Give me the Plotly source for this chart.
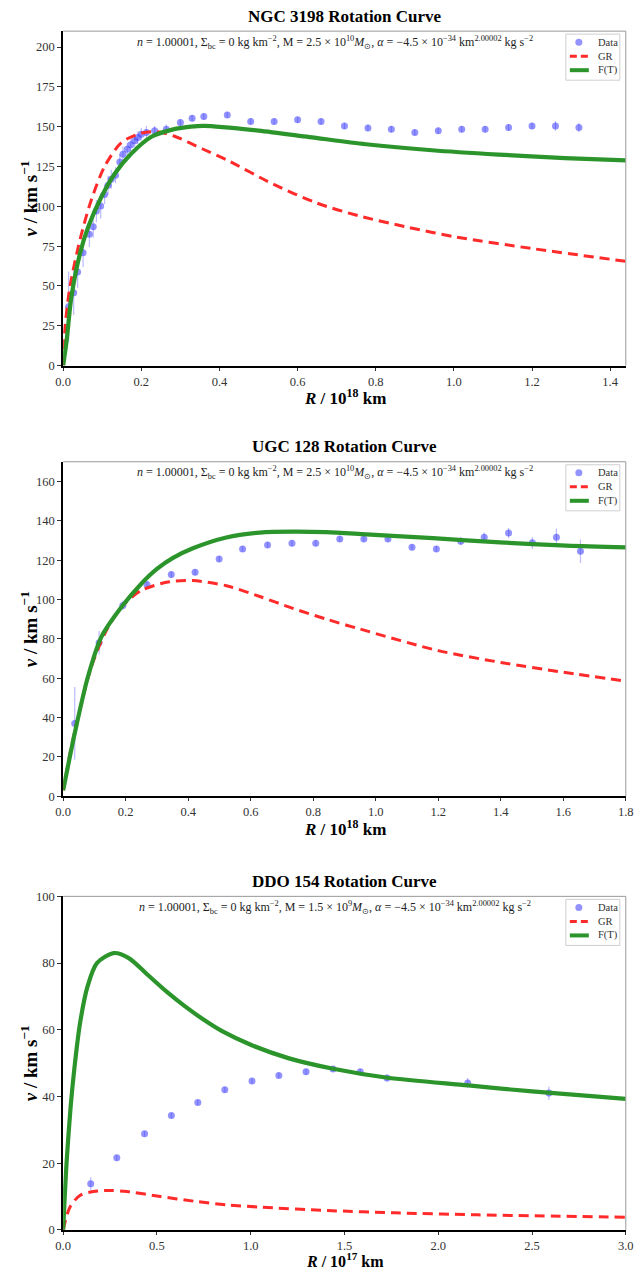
import plotly.graph_objects as go

# ---------------- NGC 3198 ----------------
ngc_r = [0.014, 0.027, 0.037, 0.051, 0.067, 0.077, 0.085, 0.096, 0.106, 0.115, 0.123,
         0.134, 0.145, 0.153, 0.164, 0.173, 0.183, 0.191, 0.200, 0.213, 0.234, 0.264,
         0.300, 0.330, 0.360, 0.420, 0.480, 0.540, 0.600, 0.660, 0.720, 0.780, 0.840,
         0.900, 0.960, 1.020, 1.080, 1.140, 1.200, 1.260, 1.320]
ngc_v = [37.0, 45.7, 58.7, 70.9, 82.4, 87.2, 97.0, 100.2, 107.5, 113.2, 117.0,
         119.5, 127.9, 132.7, 135.8, 138.6, 141.1, 143.2, 145.3, 146.4, 147.4, 148.4,
         152.6, 155.3, 156.4, 157.4, 153.3, 153.3, 154.3, 153.3, 150.5, 149.2, 148.4,
         146.4, 147.4, 148.4, 148.4, 149.5, 150.5, 150.5, 149.5]
ngc_err = [22, 14, 10, 9, 8, 7, 7, 8, 6, 6, 6,
           5, 5, 5, 4, 4, 4, 4, 4, 4, 3, 3,
           2, 2, 2, 2, 2, 2, 2, 2, 2, 2, 2,
           2, 2, 2, 2, 2, 2, 3, 3]
ngc_gr_r = [0.0, 0.004, 0.017, 0.043, 0.072, 0.106, 0.149, 0.200, 0.242, 0.285, 0.357,
            0.420, 0.537, 0.650, 0.757, 0.880, 1.000, 1.200, 1.440]
ngc_gr_v = [0.0, 22.0, 49.0, 79.0, 104.0, 125.0, 140.0, 146.0, 146.8, 144.0, 136.0,
            129.0, 114.0, 102.0, 94.0, 87.0, 81.0, 73.5, 65.5]
ngc_ft_r = [0.0, 0.009, 0.021, 0.043, 0.064, 0.098, 0.132, 0.174, 0.226, 0.277, 0.327,
            0.360, 0.500, 0.630, 0.775, 0.944, 1.114, 1.284, 1.440]
ngc_ft_v = [0.0, 16.0, 43.0, 70.3, 87.0, 106.0, 120.5, 133.0, 143.7, 148.0, 150.0,
            150.5, 147.5, 143.5, 139.0, 135.2, 132.5, 130.3, 128.8]

# ---------------- UGC 128 ----------------
ugc_r = [0.037, 0.115, 0.191, 0.268, 0.346, 0.422, 0.499, 0.574, 0.654, 0.732, 0.808,
         0.885, 0.962, 1.039, 1.116, 1.194, 1.272, 1.347, 1.425, 1.501, 1.578, 1.655]
ugc_v = [37.0, 78.0, 97.0, 107.6, 112.7, 113.8, 120.6, 125.7, 127.7, 128.6, 128.6,
         130.8, 130.8, 130.8, 126.5, 125.7, 129.6, 131.6, 133.8, 128.8, 131.6, 124.5]
ugc_err = [18.5, 6, 2.5, 1.5, 1.5, 1.5, 1.5, 1.5, 1.5, 1.5, 1.5,
           1.5, 1.5, 1.5, 1.5, 1.5, 2, 2.5, 2.5, 3, 4.5, 6]
ugc_gr_r = [0.0, 0.010, 0.026, 0.058, 0.090, 0.133, 0.186, 0.250, 0.340, 0.415, 0.522,
            0.629, 0.735, 0.842, 0.949, 1.200, 1.400, 1.600, 1.800]
ugc_gr_v = [3.0, 11.5, 25.0, 47.0, 65.6, 82.6, 96.0, 104.6, 109.0, 109.6, 107.0,
            101.5, 95.5, 90.0, 85.0, 74.0, 68.0, 63.0, 58.5]
ugc_ft_r = [0.0, 0.015, 0.037, 0.079, 0.122, 0.186, 0.250, 0.300, 0.350, 0.415, 0.522,
            0.629, 0.735, 0.842, 0.970, 1.183, 1.397, 1.610, 1.800]
ugc_ft_v = [3.0, 15.0, 32.0, 60.6, 80.9, 96.0, 108.0, 115.5, 121.0, 126.0, 131.5,
            134.0, 134.5, 134.2, 133.1, 131.2, 129.0, 127.4, 126.5]

# ---------------- DDO 154 ----------------
ddo_r = [0.147, 0.286, 0.434, 0.577, 0.718, 0.862, 1.007, 1.150, 1.295, 1.439, 1.584,
         1.727, 2.157, 2.590]
ddo_v = [13.8, 21.6, 28.8, 34.3, 38.2, 42.0, 44.6, 46.3, 47.4, 48.2, 47.4,
         45.5, 44.0, 41.0]
ddo_err = [2, 0.8, 0.8, 0.8, 0.8, 0.8, 0.8, 0.8, 0.8, 0.8, 0.8, 1, 1.5, 2]
ddo_gr_r = [0.0, 0.036, 0.089, 0.161, 0.250, 0.340, 0.518, 0.696, 0.875, 1.054, 1.410,
            1.768, 2.210, 3.000]
ddo_gr_v = [0.0, 6.8, 10.3, 11.5, 11.8, 11.5, 10.0, 8.6, 7.5, 6.8, 5.8,
            5.1, 4.5, 3.8]
ddo_ft_r = [0.0, 0.018, 0.040, 0.060, 0.090, 0.130, 0.180, 0.270, 0.350, 0.450, 0.550,
            0.650, 0.750, 0.850, 1.000, 1.200, 1.440, 1.730, 2.160, 2.500, 3.000]
ddo_ft_v = [0.0, 20.0, 37.0, 48.5, 62.0, 73.0, 80.0, 83.0, 81.5, 76.5, 71.5,
            67.0, 63.0, 59.5, 55.5, 51.5, 48.3, 45.6, 43.3, 41.5, 39.3]

titles = ["NGC 3198 Rotation Curve", "UGC 128 Rotation Curve", "DDO 154 Rotation Curve"]
mass_labels = ["2.5 × 10<sup>10</sup>", "2.5 × 10<sup>10</sup>", "1.5 × 10<sup>9</sup>"]
x_titles = ["<b><i>R</i> / 10<sup>18</sup> km</b>", "<b><i>R</i> / 10<sup>18</sup> km</b>",
            "<b><i>R</i> / 10<sup>17</sup> km</b>"]
x_ranges = [[0, 1.44], [0, 1.8], [0, 3.0]]
y_ranges = [[0, 210], [0, 170], [0, 100]]
x_tickvals = [[0.0, 0.2, 0.4, 0.6, 0.8, 1.0, 1.2, 1.4],
              [0.0, 0.2, 0.4, 0.6, 0.8, 1.0, 1.2, 1.4, 1.6, 1.8],
              [0.0, 0.5, 1.0, 1.5, 2.0, 2.5, 3.0]]
y_tickvals = [[0, 25, 50, 75, 100, 125, 150, 175, 200],
              [0, 20, 40, 60, 80, 100, 120, 140, 160],
              [0, 20, 40, 60, 80, 100]]
legend_labels = ["Data", "GR", "F(T)"]

DATA_COLOR = "rgba(40,40,255,0.5)"
ERR_COLOR = "rgba(60,60,255,0.35)"
GR_COLOR = "#ff2a2a"
FT_COLOR = "#2b952b"

W, H = 641, 1272
SERIF = "Liberation Serif"
# The page body keeps its default 8px margin and the page is then fitted to the
# window, so layout positions are given in window pixels and mapped back here.
BODY = 8
SX = (W + 2 * BODY) / W
SY = (H + 2 * BODY) / H
X0, X1 = 63, 626
panel_px = [(32, 366), (462, 796), (896, 1229)]
x_title_px = [397, 828, 1259.5]
x_title_size = [17, 17, 16]


def px(p):
    return (p * SX - BODY) / W


def py(p):
    return 1 - (p * SY - BODY) / H


datasets = [
    (ngc_r, ngc_v, ngc_err, ngc_gr_r, ngc_gr_v, ngc_ft_r, ngc_ft_v),
    (ugc_r, ugc_v, ugc_err, ugc_gr_r, ugc_gr_v, ugc_ft_r, ugc_ft_v),
    (ddo_r, ddo_v, ddo_err, ddo_gr_r, ddo_gr_v, ddo_ft_r, ddo_ft_v),
]

fig = go.Figure()
annotations = []
shapes = []


def note(text, x, y, size, color="black", angle=0, xanchor="center"):
    annotations.append(dict(
        text=text, x=x, y=y, xref="paper", yref="paper", showarrow=False,
        xanchor=xanchor, yanchor="middle", textangle=angle,
        font=dict(family=SERIF, size=size, color=color)))


def legend_box(top):
    # boxed key in the upper right corner of a panel
    shapes.append(dict(type="rect", xref="paper", yref="paper", layer="above",
                       x0=px(566), x1=px(620), y0=py(top + 49), y1=py(top + 3),
                       fillcolor="white", line=dict(color="#cfcfcf", width=1)))
    rows = [top + 11, top + 25, top + 39]
    shapes.append(dict(type="circle", xref="paper", yref="paper", layer="above",
                       x0=px(575.5), x1=px(582.5), y0=py(rows[0] + 3.5), y1=py(rows[0] - 3.5),
                       fillcolor=DATA_COLOR, line=dict(width=0)))
    shapes.append(dict(type="line", xref="paper", yref="paper", layer="above",
                       x0=px(570), x1=px(589), y0=py(rows[1]), y1=py(rows[1]),
                       line=dict(color=GR_COLOR, width=3, dash="7px,4px")))
    shapes.append(dict(type="line", xref="paper", yref="paper", layer="above",
                       x0=px(570), x1=px(589), y0=py(rows[2]), y1=py(rows[2]),
                       line=dict(color=FT_COLOR, width=4)))
    for label, row in zip(legend_labels, rows):
        note(label, px(596), py(row), 10.5, color="#333", xanchor="left")


for i, (r, v, e, grr, grv, ftr, ftv) in enumerate(datasets):
    sfx = "" if i == 0 else str(i + 1)
    xa, ya = "x" + sfx, "y" + sfx
    fig.add_trace(go.Scatter(
        x=r, y=v, mode="markers", name="Data", xaxis=xa, yaxis=ya,
        marker=dict(size=7, color=DATA_COLOR),
        error_y=dict(type="data", array=e, visible=True, width=0, thickness=1.2,
                     color=ERR_COLOR)))
    fig.add_trace(go.Scatter(
        x=grr, y=grv, mode="lines", name="GR", xaxis=xa, yaxis=ya,
        line=dict(color=GR_COLOR, width=3, dash="10px,6px", shape="spline", smoothing=0.8)))
    fig.add_trace(go.Scatter(
        x=ftr, y=ftv, mode="lines", name="F(T)", xaxis=xa, yaxis=ya,
        line=dict(color=FT_COLOR, width=4.2, shape="spline", smoothing=0.8)))

    top, bot = panel_px[i]
    axis_common = dict(showgrid=False, zeroline=False, ticks="outside", ticklen=4,
                       tickwidth=1, tickcolor="#333", ticklabeloverflow="allow",
                       tickfont=dict(family=SERIF, size=12.5, color="#333"),
                       showline=True, linecolor="black", linewidth=2)
    fig.layout["xaxis" + sfx] = dict(
        axis_common, domain=[px(X0), px(X1)], anchor=ya, range=x_ranges[i],
        tickmode="array", tickvals=x_tickvals[i], tickformat=".1f", ticklen=3)
    fig.layout["yaxis" + sfx] = dict(
        axis_common, domain=[py(bot), py(top)], anchor=xa, range=y_ranges[i],
        tickmode="array", tickvals=y_tickvals[i])

    # thin frame on top and right
    shapes.append(dict(type="line", xref=xa + " domain", yref=ya + " domain",
                       x0=0, x1=1, y0=1, y1=1, line=dict(color="#999", width=1)))
    shapes.append(dict(type="line", xref=xa + " domain", yref=ya + " domain",
                       x0=1, x1=1, y0=0, y1=1, line=dict(color="#999", width=1)))

    legend_box(top)

    note("<b>" + titles[i] + "</b>", px(345), py(top - 15), 17)
    note("<i>n</i> = 1.00001, Σ<sub>bc</sub> = 0 kg km<sup>−2</sup>, M = "
         + mass_labels[i] + "<i>M</i><sub>⊙</sub>, <i>α</i> = −4.5 × 10<sup>−34</sup> "
         "km<sup>2.00002</sup> kg s<sup>−2</sup>",
         px(335), py(top + 11), 12, color="#222")
    note(x_titles[i], px(345), py(x_title_px[i]), x_title_size[i])
    note("<b><i>v</i> / km s<sup>−1</sup></b>", px(29), py((top + bot) / 2), 19, angle=-90)

fig.update_layout(
    width=W, height=H, margin=dict(l=0, r=0, t=0, b=0),
    paper_bgcolor="white", plot_bgcolor="white", showlegend=False,
    annotations=annotations, shapes=shapes,
)

fig.write_html("out.html")
